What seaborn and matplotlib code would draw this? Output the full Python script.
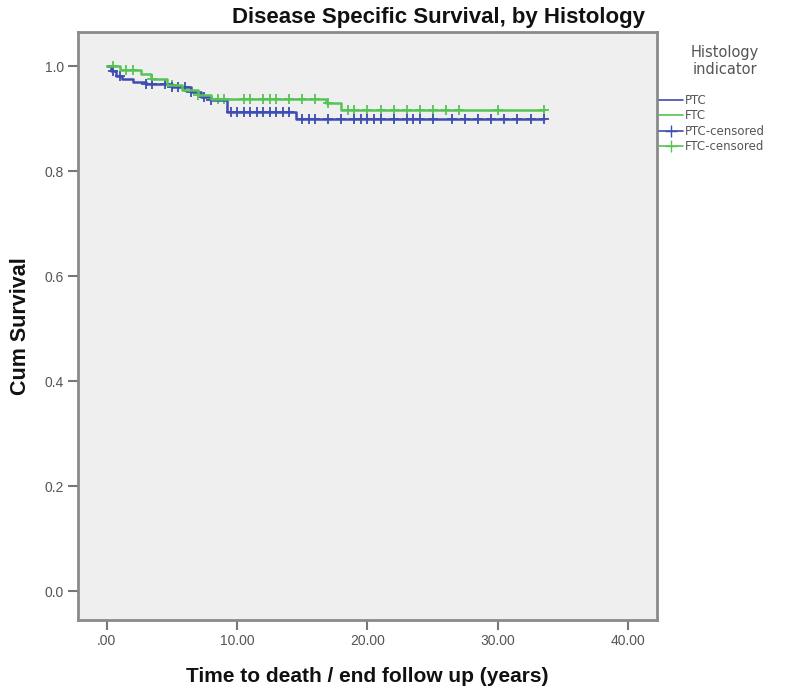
import numpy as np
import pandas as pd
import seaborn as sns
import matplotlib
matplotlib.use("Agg")
import matplotlib.pyplot as plt
from matplotlib.lines import Line2D

sns.set_theme(style="white")
plt.rcParams['font.family'] = ['Liberation Sans', 'DejaVu Sans']

# Kaplan-Meier step curves (time in years, cumulative survival)
ptc_time = [0, 0.3, 0.7, 1.2, 2.0, 3.0, 5.0, 6.5, 7.2, 8.0, 9.2, 14.5, 33.5]
ptc_surv = [1.0, 0.99, 0.982, 0.975, 0.97, 0.966, 0.96, 0.95, 0.942, 0.935, 0.912, 0.90, 0.90]
ftc_time = [0, 1.0, 2.6, 3.4, 4.6, 5.8, 7.0, 8.0, 16.8, 18.0, 33.5]
ftc_surv = [1.0, 0.993, 0.985, 0.975, 0.965, 0.955, 0.945, 0.937, 0.93, 0.917, 0.917]

# censored observations (time)
ptc_cens = [0.5, 1.0, 3.0, 3.5, 4.5, 5.0, 5.5, 6.0, 6.5, 7.5, 8.0, 9.5, 10.0, 10.5, 11.0,
            11.5, 12.0, 12.5, 13.0, 13.5, 14.0, 15.0, 15.5, 16.0, 17.0, 18.0, 19.0, 19.5,
            20.0, 20.5, 21.0, 22.0, 23.0, 23.5, 24.0, 25.0, 26.5, 27.5, 28.5, 29.5, 30.5,
            31.5, 32.5, 33.5]
ftc_cens = [0.5, 1.5, 2.0, 3.5, 5.0, 7.0, 8.5, 9.0, 10.5, 11.0, 12.0, 12.5, 13.0, 14.0,
            15.0, 16.0, 17.0, 18.5, 19.0, 20.0, 21.0, 22.0, 23.0, 24.0, 25.0, 26.0, 27.0,
            30.0, 33.5]

x_ticks = [0, 10, 20, 30, 40]
x_labels = [".00", "10.00", "20.00", "30.00", "40.00"]
y_ticks = [0.0, 0.2, 0.4, 0.6, 0.8, 1.0]
y_labels = ["0.0", "0.2", "0.4", "0.6", "0.8", "1.0"]

BLUE = "#3D4DB2"
GREEN = "#55C455"


def surv_at(times, survs, t):
    idx = np.searchsorted(times, t, side="right") - 1
    return np.asarray(survs)[idx]


fig = plt.figure(figsize=(7.95, 6.89), dpi=100)
ax = fig.add_axes([78 / 795, 1 - 620 / 689, (657 - 78) / 795, (620 - 32) / 689])
ax.set_facecolor("#efefef")

sns.lineplot(x=ptc_time, y=ptc_surv, ax=ax, color=BLUE, drawstyle="steps-post", linewidth=1.8)
sns.lineplot(x=ftc_time, y=ftc_surv, ax=ax, color=GREEN, drawstyle="steps-post", linewidth=1.8)

ptc_c = pd.DataFrame({"t": ptc_cens, "s": surv_at(ptc_time, ptc_surv, ptc_cens)})
ftc_c = pd.DataFrame({"t": ftc_cens, "s": surv_at(ftc_time, ftc_surv, ftc_cens)})
sns.scatterplot(data=ftc_c, x="t", y="s", ax=ax, marker="+", color=GREEN, s=45, linewidth=1.3)
sns.scatterplot(data=ptc_c, x="t", y="s", ax=ax, marker="+", color=BLUE, s=45, linewidth=1.3)

ax.set_xlim(-2.2, 42.2)
ax.set_ylim(-0.055, 1.065)
ax.set_xticks(x_ticks)
ax.set_xticklabels(x_labels)
ax.set_yticks(y_ticks)
ax.set_yticklabels(y_labels)
ax.tick_params(axis="both", bottom=True, left=True, direction="out", length=7, width=1.5,
               color="#777777", labelsize=10, labelcolor="#555555", pad=3)
for sp in ax.spines.values():
    sp.set_color("#8a8a8a")
    sp.set_linewidth(2)

ax.set_xlabel("Time to death / end follow up (years)", fontsize=15, fontweight="bold",
              labelpad=14, color="#111111")
ax.set_ylabel("Cum Survival", fontsize=15.5, fontweight="bold", labelpad=10, color="#111111")

fig.text(438 / 795, 1 - 18 / 689, "Disease Specific Survival, by Histology", ha="center",
         va="center", fontsize=16, fontweight="bold", color="#111111")

# legend title
fig.text(725 / 795, 1 - 61 / 689, "Histology\nindicator", ha="center", va="center",
         fontsize=10.5, color="#555555", linespacing=1.15, family=["DejaVu Sans"])

handles = [
    Line2D([], [], color=BLUE, linewidth=1.2),
    Line2D([], [], color=GREEN, linewidth=1.2),
    Line2D([], [], color=BLUE, linewidth=1.2, marker="+", markersize=8),
    Line2D([], [], color=GREEN, linewidth=1.2, marker="+", markersize=8),
]
leg = fig.legend(handles, ["PTC", "FTC", "PTC-censored", "FTC-censored"], loc="upper left",
                 bbox_to_anchor=(659 / 795, 1 - 94 / 689), frameon=False,
                 prop={"family": "DejaVu Sans", "size": 8.5}, handlelength=2.0,
                 handletextpad=0.2, labelspacing=0.2, borderaxespad=0, borderpad=0)
for txt in leg.get_texts():
    txt.set_color("#555555")

fig.savefig("out.png", dpi=100)
